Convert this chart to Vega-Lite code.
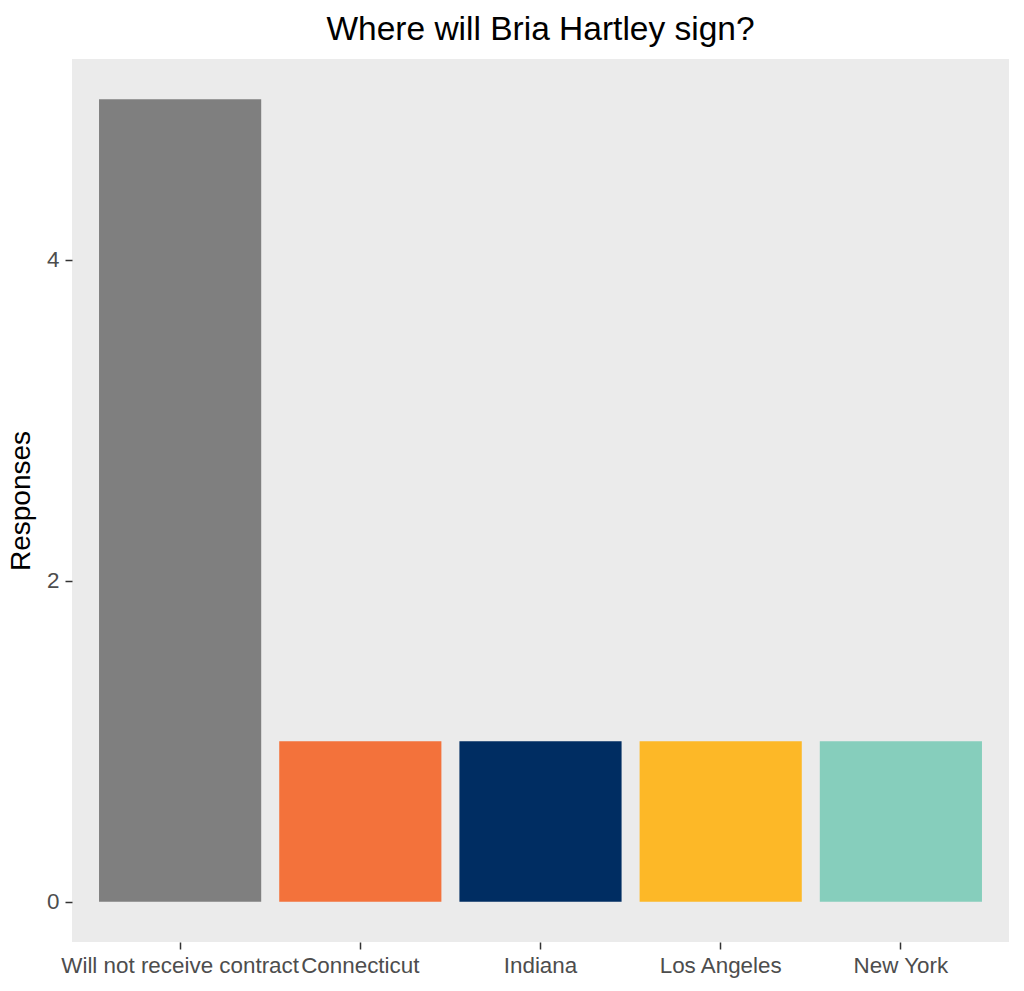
{
  "$schema": "https://vega.github.io/schema/vega-lite/v6.json",
  "width": 937,
  "height": 883,
  "autosize": {"type": "none"},
  "padding": {"left": 72, "top": 59, "right": 15, "bottom": 49},
  "background": "white",
  "title": {
    "text": "Where will Bria Hartley sign?",
    "font": "Liberation Sans",
    "fontSize": 33.5,
    "fontWeight": "normal",
    "color": "#000000",
    "anchor": "middle",
    "frame": "group",
    "baseline": "alphabetic",
    "offset": -14
  },
  "data": {
    "values": [
      {"team": "Will not receive contract", "responses": 5},
      {"team": "Connecticut", "responses": 1},
      {"team": "Indiana", "responses": 1},
      {"team": "Los Angeles", "responses": 1},
      {"team": "New York", "responses": 1}
    ]
  },
  "config": {
    "view": {"fill": "#EBEBEB", "stroke": null},
    "axis": {
      "labelFont": "Liberation Sans",
      "titleFont": "Liberation Sans",
      "labelColor": "#4D4D4D",
      "labelFontSize": 22.4,
      "titleFontSize": 28,
      "titleFontWeight": "normal",
      "titleColor": "#000000",
      "tickColor": "#333333",
      "tickSize": 7,
      "tickWidth": 1.5,
      "domain": false,
      "grid": false
    }
  },
  "mark": {"type": "bar"},
  "encoding": {
    "x": {
      "field": "team",
      "type": "nominal",
      "sort": null,
      "scale": {"paddingInner": 0.1, "paddingOuter": 0.15},
      "axis": {"title": null, "labelAngle": 0, "labelPadding": 5, "labelOverlap": false, "labelBound": false, "labelFlush": false, "labelLimit": 0}
    },
    "y": {
      "field": "responses",
      "type": "quantitative",
      "scale": {"domain": [-0.25, 5.25], "nice": false, "zero": false},
      "axis": {"title": "Responses", "values": [0, 2, 4], "labelPadding": 6, "titlePadding": 11}
    },
    "y2": {"datum": 0},
    "color": {
      "field": "team",
      "type": "nominal",
      "sort": null,
      "scale": {
        "domain": ["Will not receive contract", "Connecticut", "Indiana", "Los Angeles", "New York"],
        "range": ["#7F7F7F", "#F3723B", "#002D62", "#FDB827", "#86CEBC"]
      },
      "legend": null
    }
  }
}
